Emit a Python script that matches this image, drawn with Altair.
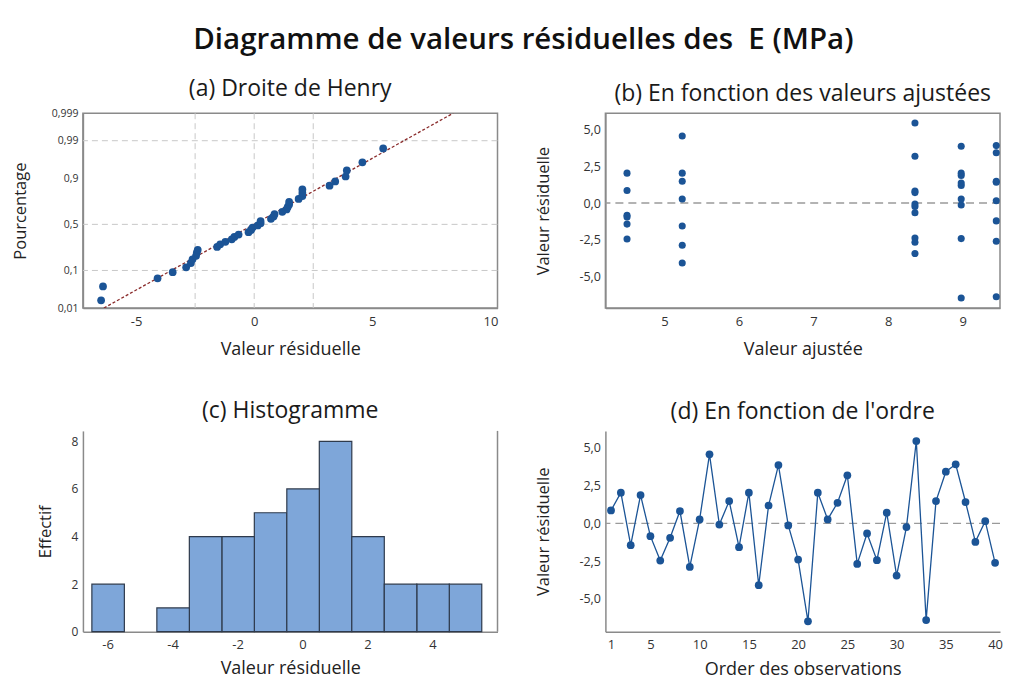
import altair as alt
import pandas as pd
from statistics import NormalDist, mean, stdev

# ---------------- data ----------------
order = list(range(1, 41))
residuals = [0.86, 2.04, -1.44, 1.88, -0.84, -2.46, -0.95, 0.82, -2.88, 0.27,
             4.58, -0.07, 1.48, -1.57, 2.04, -4.09, 1.19, 3.87, -0.13, -2.39,
             -6.48, 2.04, 0.27, 1.37, 3.19, -2.68, -0.66, -2.43, 0.71, -3.45,
             -0.24, 5.46, -6.40, 1.48, 3.43, 3.92, 1.42, -1.22, 0.15, -2.61]
fitted = [4.50, 4.50, 4.50, 8.98, 4.50, 4.50, 4.50, 8.36, 5.24, 5.24,
          5.24, 8.36, 5.24, 5.24, 5.24, 5.24, 8.98, 8.98, 8.98, 8.36,
          8.98, 8.98, 8.98, 8.98, 8.36, 8.36, 8.36, 8.98, 8.36, 8.36,
          8.36, 8.36, 9.45, 9.45, 9.45, 9.45, 9.45, 9.45, 9.45, 9.45]

prob_ticks = [0.01, 0.1, 0.5, 0.9, 0.99, 0.999]
prob_labels = ["0,01", "0,1", "0,5", "0,9", "0,99", "0,999"]
prob_grid = [0.1, 0.5, 0.99]
resid_grid = [-2.5, 0.0, 2.5]
resid_ticks_a = [-5, 0, 5, 10]
fit_ticks = [5, 6, 7, 8, 9]
res_ticks = [-5.0, -2.5, 0.0, 2.5, 5.0]
hist_ticks = [-6, -4, -2, 0, 2, 4]
count_ticks = [0, 2, 4, 6, 8]
order_ticks = [1, 5, 10, 15, 20, 25, 30, 35, 40]

# ---------------- derived tables ----------------
nd = NormalDist()
n = len(residuals)
srt = sorted(residuals)
prob_df = pd.DataFrame({
    "resid": srt,
    "z": [nd.inv_cdf((i + 1 - 0.3) / (n + 0.4)) for i in range(n)],
})
m, s = mean(residuals), stdev(residuals)
z_dom = [nd.inv_cdf(0.01), nd.inv_cdf(0.999)]
line_df = pd.DataFrame({"z": z_dom, "resid": [m + s * z for z in z_dom]})
gridv_df = pd.DataFrame({"resid": resid_grid})
gridh_df = pd.DataFrame({"z": [nd.inv_cdf(p) for p in prob_grid]})
main_df = pd.DataFrame({"order": order, "resid": residuals, "fit": fitted})
zero_df = pd.DataFrame({"resid": [0.0]})

FONT = "Open Sans"
MARK = "#1b5496"
GRID = "#c8c8c8"
W_L, W_R = 415, 395
H_T, H_B = 195, 201


def lab_expr(vals, labels):
    expr = "''"
    for v, l in zip(vals, labels):
        expr = f"abs(datum.value - ({v})) < 0.001 ? '{l}' : ({expr})"
    return expr


dec_expr = "(datum.value < 0 ? '-' : '') + replace(format(abs(datum.value), '.1f'), '.', ',')"
int_expr = "(datum.value < 0 ? '-' : '') + format(abs(datum.value), 'd')"


def sub_title(t):
    return alt.TitleParams(t, font=FONT, fontSize=23, fontWeight="normal",
                           color="#1a1a1a", offset=7, anchor="middle")


def x_axis(title, values, tpad, expr=None):
    kw = dict(title=title, values=values, titlePadding=tpad, labelPadding=7,
              labelFontSize=13, titleFontSize=18)
    if expr:
        kw["labelExpr"] = expr
    return alt.Axis(**kw)


# ---------------- (a) Droite de Henry ----------------
xs_a = alt.Scale(domain=[-7.25, 10.3], nice=False, zero=False)
ys_a = alt.Scale(domain=z_dom, nice=False, zero=False)
ax_a_x = x_axis("Valeur résiduelle", resid_ticks_a, 13, int_expr)
ax_a_y = alt.Axis(title="Pourcentage", values=[nd.inv_cdf(p) for p in prob_ticks],
                  labelExpr=lab_expr([nd.inv_cdf(p) for p in prob_ticks], prob_labels),
                  labelFontSize=10.5, titlePadding=23, titleFontSize=16.5)

gv = alt.Chart(gridv_df).mark_rule(color=GRID, strokeDash=[6, 4], strokeWidth=1).encode(
    x=alt.X("resid:Q", scale=xs_a, axis=ax_a_x))
gh = alt.Chart(gridh_df).mark_rule(color=GRID, strokeDash=[6, 4], strokeWidth=1).encode(
    y=alt.Y("z:Q", scale=ys_a, axis=ax_a_y))
ln = alt.Chart(line_df).mark_line(color="#8a2b2b", strokeDash=[3, 2], strokeWidth=1.3, clip=True).encode(
    x=alt.X("resid:Q", scale=xs_a, axis=ax_a_x), y=alt.Y("z:Q", scale=ys_a, axis=ax_a_y))
pa = alt.Chart(prob_df).mark_circle(size=60, color=MARK, opacity=1).encode(
    x=alt.X("resid:Q", scale=xs_a, axis=ax_a_x), y=alt.Y("z:Q", scale=ys_a, axis=ax_a_y))
chart_a = alt.layer(gv, gh, ln, pa).properties(width=W_L, height=H_T, title=sub_title("(a) Droite de Henry"))

# ---------------- (b) En fonction des valeurs ajustées ----------------
xs_b = alt.Scale(domain=[4.21, 9.5], nice=False, zero=False)
ys_r = alt.Scale(domain=[-7.17, 6.13], nice=False, zero=False)
ax_b_x = x_axis("Valeur ajustée", fit_ticks, 13, int_expr)
ax_r_y = alt.Axis(title="Valeur résiduelle", values=res_ticks, labelExpr=dec_expr, titlePadding=27,
                  titleFontSize=16.5, labelFontSize=12.5)
zb = alt.Chart(zero_df).mark_rule(color="#9a9a9a", strokeDash=[8, 5], strokeWidth=1.3).encode(
    y=alt.Y("resid:Q", scale=ys_r, axis=ax_r_y))
pb = alt.Chart(main_df).mark_circle(size=50, color=MARK, opacity=1, clip=True).encode(
    x=alt.X("fit:Q", scale=xs_b, axis=ax_b_x), y=alt.Y("resid:Q", scale=ys_r, axis=ax_r_y))
chart_b = alt.layer(zb, pb).properties(width=W_R, height=H_T,
                                       title=sub_title("(b) En fonction des valeurs ajustées"))

# ---------------- (c) Histogramme ----------------
xs_c = alt.Scale(domain=[-6.76, 6.0], nice=False, zero=False)
ys_c = alt.Scale(domain=[0, 8.44], nice=False)
ax_c_x = x_axis("Valeur résiduelle", hist_ticks, 8, int_expr)
ax_c_y = alt.Axis(title="Effectif", values=count_ticks, titlePadding=18, titleFontSize=16.5,
                  labelFontSize=12)
hc = alt.Chart(main_df).mark_bar(fill="#7ea6d9", stroke="#2e3a4c", strokeWidth=1.2, binSpacing=0).encode(
    x=alt.X("resid:Q", bin=alt.Bin(extent=[-6.5, 5.5], step=1, nice=False), scale=xs_c, axis=ax_c_x),
    y=alt.Y("count():Q", scale=ys_c, axis=ax_c_y))
rc = alt.Chart(pd.DataFrame({"edge": [6.0]})).mark_rule(color="#8a8a8a", strokeWidth=1.5).encode(
    x=alt.X("edge:Q", scale=xs_c, axis=ax_c_x))
chart_c = alt.layer(hc, rc).properties(width=W_L, height=H_B, title=sub_title("(c) Histogramme"),
                                       view=alt.ViewBackground(stroke="transparent"))

# ---------------- (d) En fonction de l'ordre ----------------
xs_d = alt.Scale(domain=[0.43, 40.5], nice=False, zero=False)
ax_d_x = x_axis("Order des observations", order_ticks, 9)
zd = alt.Chart(zero_df).mark_rule(color="#9a9a9a", strokeDash=[8, 5], strokeWidth=1.3).encode(
    y=alt.Y("resid:Q", scale=ys_r, axis=ax_r_y))
ld = alt.Chart(main_df).mark_line(color=MARK, strokeWidth=1.3).encode(
    x=alt.X("order:Q", scale=xs_d, axis=ax_d_x), y=alt.Y("resid:Q", scale=ys_r, axis=ax_r_y))
pd_ = alt.Chart(main_df).mark_circle(size=60, color=MARK, opacity=1).encode(
    x=alt.X("order:Q", scale=xs_d, axis=ax_d_x), y=alt.Y("resid:Q", scale=ys_r, axis=ax_r_y))
chart_d = alt.layer(zd, ld, pd_).properties(width=W_R, height=H_B,
                                            title=sub_title("(d) En fonction de l'ordre"),
                                            view=alt.ViewBackground(stroke="transparent"))

chart = alt.concat(chart_a, chart_b, chart_c, chart_d, columns=2,
                   spacing={"row": 123, "column": 108}, bounds="flush").properties(
    title=alt.TitleParams("Diagramme de valeurs résiduelles des\u00a0 E (MPa)", font=FONT, fontSize=29.5,
                          fontWeight=600, color="#111111", anchor="middle", dx=16, offset=22),
    padding={"left": 3, "top": 16, "right": 0, "bottom": 0},
    background="white",
).configure_axis(
    labelFont=FONT, labelFontSize=12, labelColor="#333333",
    titleFont=FONT, titleFontSize=15, titleFontWeight="normal", titleColor="#222222",
    domainColor="#8a8a8a", domainWidth=1.5, ticks=False, grid=False, labelPadding=5,
).configure_view(stroke="#8a8a8a", strokeWidth=1.5)

chart.save("out.html", embed_options={"renderer": "svg", "actions": False})
